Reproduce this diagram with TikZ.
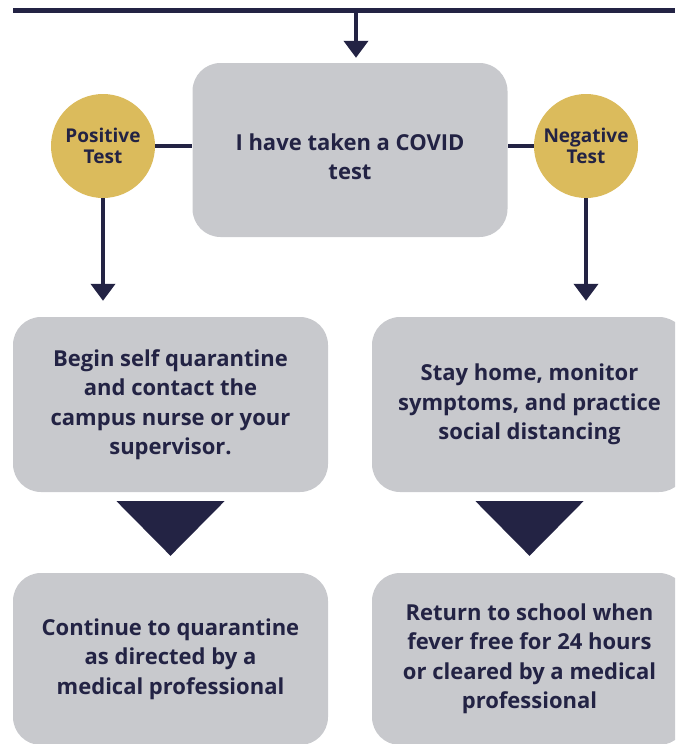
\documentclass[tikz,border=0pt]{standalone}
\usepackage{fontspec}
\setmainfont{Open Sans}
\usetikzlibrary{arrows.meta}
\definecolor{navy}{RGB}{35,35,68}
\definecolor{boxgray}{RGB}{200,201,205}
\definecolor{gold}{RGB}{219,187,92}
\tikzset{
  box/.style={fill=boxgray, rounded corners=28pt, minimum width=315pt, minimum height=174pt,
    align=center, text=navy, font=\fontsize{22}{29.5}\selectfont\bfseries},
  dot/.style={circle, fill=gold, minimum size=104pt, inner sep=0pt,
    align=center, text=navy, font=\fontsize{19}{21}\selectfont\bfseries},
  wire/.style={draw=navy, line width=4pt},
  arrow/.style={wire, -{Triangle[width=24pt,length=17pt]}}
}

\begin{document}
\begin{tikzpicture}[x=1pt, y=-1pt]
  \useasboundingbox (0,0) rectangle (675,744);
  \clip (0,0) rectangle (675,744);

  % top bar
  \coordinate (barL) at (13,10);
  \coordinate (barR) at (675,10);
  \coordinate (bar) at (356,10);
  \draw[navy, line width=5pt] (barL)--(barR);

  % test box
  \node [box, text height=60pt] (test) at (350,150){I have taken a COVID\\test};
  \draw [arrow, shorten >=5pt] (bar)--(bar |- test.north);

  % result circles
  \node [dot] (pos) at (103,146){Positive\\Test};
  \node [dot] (neg) at (586,146){Negative\\Test};
  \draw [wire] (pos.east)--(pos.east -| test.west);
  \draw [wire] (neg.west)--(neg.west -| test.east);

  % first steps
  \node [box, minimum height=175pt] (quar) at (170.5,404.5){Begin self quarantine\\and contact the\\campus nurse or your\\supervisor.};
  \node [box, minimum height=175pt] (stay) at (529.5,404.5){Stay home, monitor\\symptoms, and practice\\social distancing};
  \draw [arrow, shorten >=16pt] (pos.south)--(pos.south |- quar.north);
  \draw [arrow, shorten >=16pt] (neg.south)--(neg.south |- stay.north);

  % next steps
  \node [box, minimum height=172pt] (cont) at (170.5,659){Continue to quarantine\\as directed by a\\medical professional};
  \node [box, minimum height=172pt] (ret) at (529.5,659){Return to school when\\fever free for 24 hours\\or cleared by a medical\\professional};

  % big triangles
  \fill [navy] ([xshift=-54pt, yshift=-9pt]quar.south) -- ([xshift=54pt, yshift=-9pt]quar.south) -- ([yshift=17pt]cont.north) -- cycle;
  \fill [navy] ([xshift=-54pt, yshift=-9pt]stay.south) -- ([xshift=54pt, yshift=-9pt]stay.south) -- ([yshift=17pt]ret.north) -- cycle;
\end{tikzpicture}
\end{document}
